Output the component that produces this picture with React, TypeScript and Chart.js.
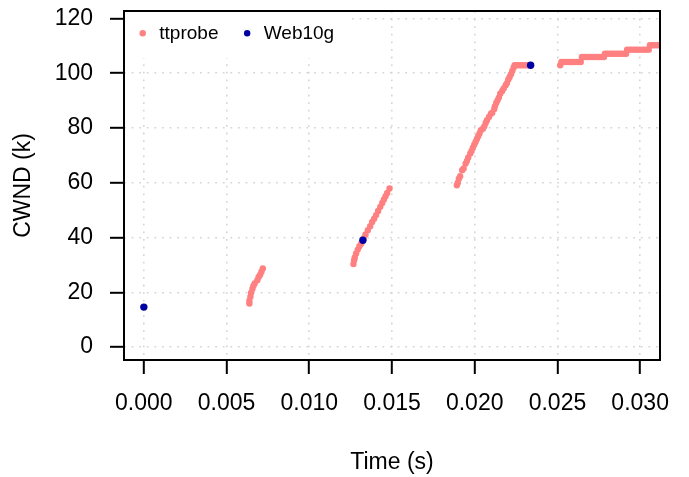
import React, { useEffect, useRef } from "react";
import { Chart, registerables } from "chart.js";

Chart.register(...registerables);

// ---- data ----
const xTickValues = [0, 0.005, 0.01, 0.015, 0.02, 0.025, 0.03];
const yTickValues = [0, 20, 40, 60, 80, 100, 120];
const xLimits = [-0.0012, 0.0312];
const yLimits = [-4.72, 122.72];

const seriesLabels = ["ttprobe", "Web10g"];

const ttprobeTime = [
  // burst 1
  0.00638, 0.00638, 0.00644, 0.00648, 0.00656, 0.00662, 0.0067, 0.00686, 0.00694, 0.00703, 0.00711, 0.00719,
  // burst 2
  0.01267, 0.01271, 0.01275, 0.01283, 0.01293, 0.01303, 0.01314, 0.01328, 0.0134, 0.01354, 0.01368, 0.0138,
  0.01392, 0.01404, 0.01416, 0.01429, 0.01441, 0.01451, 0.01461, 0.01471, 0.01485,
  // burst 3
  0.01892, 0.01898, 0.01904, 0.01912, 0.01924, 0.01933, 0.01945, 0.01953, 0.01961, 0.01973, 0.01981, 0.01989,
  0.01997, 0.02005, 0.02013, 0.02021, 0.02029, 0.02037, 0.02049, 0.02058, 0.02066, 0.02074, 0.02086, 0.02098,
  0.02106, 0.02118, 0.02122, 0.0213, 0.02138, 0.02146, 0.02154, 0.02166, 0.02175, 0.02187, 0.02195, 0.02203,
  0.02211, 0.02219, 0.02227, 0.02235, 0.02241,
  // plateau
  0.02252, 0.02266, 0.02279, 0.02293, 0.02308, 0.02322, 0.02336,
  // burst 4 (steps)
  0.02517, 0.02524, 0.02538, 0.02553, 0.02569, 0.02584, 0.02598, 0.02613, 0.02629, 0.02641,
  0.02648, 0.02662, 0.02677, 0.02693, 0.02707, 0.02722, 0.02738, 0.02752, 0.02767, 0.02781,
  0.02787, 0.02801, 0.02817, 0.02831, 0.02846, 0.02862, 0.02876, 0.0289, 0.02905, 0.02915,
  0.02921, 0.02936, 0.0295, 0.02966, 0.0298, 0.02995, 0.03011, 0.03025, 0.03039, 0.03052,
  0.03059, 0.03074, 0.03088, 0.03103, 0.03118, 0.0313,
];

const ttprobeCwnd = [
  // burst 1
  15.9, 16.9, 18.4, 19.8, 21.2, 22.3, 23.2, 24.4, 25.6, 26.4, 27.5, 28.7,
  // burst 2
  30.3, 31.7, 32.7, 34.2, 35.6, 36.8, 37.8, 39.7, 41.1, 42.7, 44.1, 45.7,
  46.9, 48.2, 49.7, 51.2, 52.6, 53.9, 55.1, 56.3, 57.9,
  // burst 3
  59.1, 60.0, 61.5, 62.4, 64.6, 65.2, 67.0, 68.0, 69.2, 70.7, 71.6, 72.8,
  73.9, 74.9, 76.0, 77.0, 78.0, 79.2, 79.7, 80.6, 81.8, 82.8, 84.0, 85.2,
  85.6, 86.9, 87.9, 89.1, 90.1, 91.1, 92.5, 93.5, 94.4, 95.6, 96.4, 97.7,
  98.6, 99.6, 100.8, 102.0, 102.9,
  // plateau
  102.9, 102.9, 102.9, 102.9, 102.9, 102.9, 102.9,
  // burst 4 (steps)
  102.9, 104.1, 104.1, 104.1, 104.1, 104.1, 104.1, 104.1, 104.1, 104.1,
  105.9, 105.9, 105.9, 105.9, 105.9, 105.9, 105.9, 105.9, 105.9, 105.9,
  107.1, 107.1, 107.1, 107.1, 107.1, 107.1, 107.1, 107.1, 107.1, 107.1,
  108.6, 108.6, 108.6, 108.6, 108.6, 108.6, 108.6, 108.6, 108.6, 108.6,
  110.2, 110.2, 110.2, 110.2, 110.2, 110.2,
];

const web10gTime = [0, 0.01324, 0.02338];
const web10gCwnd = [14.6, 39.0, 102.9];

// ---- styling ----
const FONT = "'Liberation Sans', Arial, Helvetica, sans-serif";
const SALMON = "#FF8080";
const NAVY = "#0000A5";

const boxPlugin = {
  id: "rBox",
  afterDraw(chart: any) {
    const { ctx, chartArea } = chart;
    ctx.save();
    ctx.strokeStyle = "#000";
    ctx.lineWidth = 2;
    ctx.strokeRect(chartArea.left, chartArea.top, chartArea.right - chartArea.left, chartArea.bottom - chartArea.top);
    ctx.restore();
  },
};

const legendPlugin = {
  id: "insideLegend",
  beforeDatasetsDraw(chart: any) {
    const { ctx, chartArea } = chart;
    ctx.save();
    ctx.font = `19px ${FONT}`;
    const dsets = chart.data.datasets;
    let x = chartArea.left + 18.7;
    const y = chartArea.top + 22.3;
    const items: any[] = [];
    dsets.forEach((ds: any) => {
      const w = ctx.measureText(ds.label).width;
      items.push({ x, ds });
      x += 16.6 + w + 28.7;
    });
    const lastItem = items[items.length - 1];
    const right = lastItem.x + 16.6 + ctx.measureText(lastItem.ds.label).width + 12;
    ctx.fillStyle = "#fff";
    ctx.fillRect(chartArea.left + 1, chartArea.top + 1, right - chartArea.left - 1, 46);
    ctx.textBaseline = "middle";
    ctx.textAlign = "left";
    items.forEach((it) => {
      ctx.fillStyle = it.ds.pointBackgroundColor;
      ctx.beginPath();
      ctx.arc(it.x, y, 3.2, 0, Math.PI * 2);
      ctx.fill();
      ctx.fillStyle = "#000";
      ctx.fillText(it.ds.label, it.x + 16.6, y);
    });
    ctx.restore();
  },
};

export default function App() {
  const canvasRef = useRef<HTMLCanvasElement | null>(null);

  useEffect(() => {
    const canvas = canvasRef.current;
    if (!canvas) return;
    const ttprobe = ttprobeTime.map((t, i) => ({ x: t, y: ttprobeCwnd[i] }));
    const web10g = web10gTime.map((t, i) => ({ x: t, y: web10gCwnd[i] }));

    const chart = new Chart(canvas, {
      type: "scatter",
      data: {
        datasets: [
          {
            label: seriesLabels[0],
            data: ttprobe,
            pointBackgroundColor: SALMON,
            pointBorderWidth: 0,
            pointRadius: 3.2,
            borderColor: SALMON,
            backgroundColor: SALMON,
            order: 1,
            clip: 0,
          } as any,
          {
            label: seriesLabels[1],
            data: web10g,
            pointBackgroundColor: NAVY,
            pointBorderWidth: 0,
            pointRadius: 3.7,
            borderColor: NAVY,
            backgroundColor: NAVY,
            order: 0,
            clip: 0,
          } as any,
        ],
      },
      options: {
        animation: false,
        responsive: false,
        devicePixelRatio: 1,
        events: [],
        layout: { padding: { top: 11, right: 29, left: 0, bottom: 0 } },
        plugins: {
          legend: { display: false },
          tooltip: { enabled: false },
        },
        scales: {
          x: {
            type: "linear",
            min: xLimits[0],
            max: xLimits[1],
            afterBuildTicks: (s: any) => {
              s.ticks = xTickValues.map((v) => ({ value: v }));
            },
            afterFit: (s: any) => {
              s.height = 117;
              s.paddingLeft = 0;
              s.paddingRight = 0;
            },
            ticks: {
              autoSkip: false,
              maxRotation: 0,
              minRotation: 0,
              padding: 16,
              color: "#000",
              font: { family: FONT, size: 23 },
              callback: (v: any) => Number(v).toFixed(3),
            },
            grid: {
              color: "#D6D6D6",
              lineWidth: 1.6,
              drawTicks: true,
              tickLength: 14,
              tickColor: "#000",
              tickWidth: 2,
              tickBorderDash: [],
            },
            border: { display: false, dash: [1.8, 5.8] },
            title: {
              display: true,
              text: "Time (s)",
              color: "#000",
              font: { family: FONT, size: 23 },
              padding: { top: 0, bottom: 1 },
            },
          },
          y: {
            type: "linear",
            min: yLimits[0],
            max: yLimits[1],
            afterBuildTicks: (s: any) => {
              s.ticks = yTickValues.map((v) => ({ value: v }));
            },
            afterFit: (s: any) => {
              s.width = 124;
              s.paddingTop = 0;
              s.paddingBottom = 0;
            },
            ticks: {
              autoSkip: false,
              padding: 17,
              color: "#000",
              font: { family: FONT, size: 23 },
              callback: (v: any) => String(v),
            },
            grid: {
              color: "#D6D6D6",
              lineWidth: 1.6,
              drawTicks: true,
              tickLength: 14,
              tickColor: "#000",
              tickWidth: 2,
              tickBorderDash: [],
            },
            border: { display: false, dash: [1.8, 5.8] },
            title: {
              display: true,
              text: "CWND (k)",
              color: "#000",
              font: { family: FONT, size: 23 },
              padding: { top: 10, bottom: 0 },
            },
          },
        },
      } as any,
      plugins: [legendPlugin, boxPlugin],
    });

    return () => {
      chart.destroy();
    };
  }, []);

  return (
    <div style={{ position: "fixed", left: 0, top: 0, width: 689, height: 477, background: "#fff" }}>
      <canvas ref={canvasRef} width={689} height={477} style={{ display: "block" }} />
    </div>
  );
}
